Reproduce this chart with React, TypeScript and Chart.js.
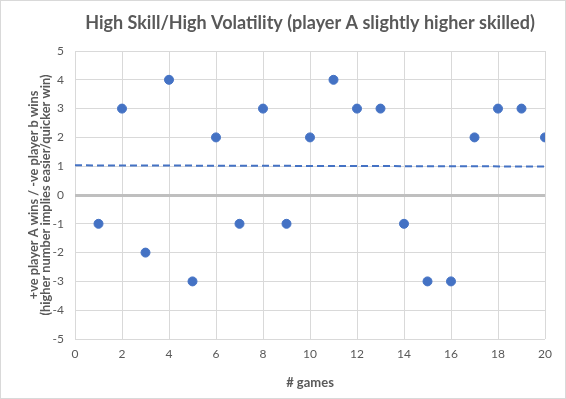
import React, { useEffect, useRef } from "react";
import { Chart, registerables } from "chart.js";

Chart.register(...registerables);

const games = [1, 2, 3, 4, 5, 6, 7, 8, 9, 10, 11, 12, 13, 14, 15, 16, 17, 18, 19, 20];
const results = [-1, 3, -2, 4, -3, 2, -1, 3, -1, 2, 4, 3, 3, -1, -3, -3, 2, 3, 3, 2];
const trendX = [0, 20];
const trendY = [1.03, 0.99];
const titleText = "High Skill/High Volatility (player A slightly higher skilled)";
const xTitle = "# games";
const yTitle = ["+ve player A wins / -ve player b wins", "(higher number implies easier/quicker win)"];

const FONT = "Lato, 'Open Sans', sans-serif";
const GREY = "#595959";
const BLUE = "#4472C4";

const titlePlugin = {
  id: "customTitle",
  afterDraw(chart: any) {
    const { ctx, chartArea } = chart;
    ctx.save();
    ctx.font = `bold 18px ${FONT}`;
    ctx.fillStyle = GREY;
    ctx.textAlign = "center";
    ctx.textBaseline = "middle";
    ctx.fillText(titleText, (chartArea.left + chartArea.right) / 2, 22);
    ctx.restore();
  },
};

export default function App() {
  const ref = useRef<HTMLCanvasElement>(null);
  useEffect(() => {
    document.body.style.margin = "0";
    const chart = new Chart(ref.current!, {
      type: "scatter",
      data: {
        datasets: [
          {
            label: "results",
            data: games.map((g, i) => ({ x: g, y: results[i] })),
            backgroundColor: BLUE,
            borderColor: BLUE,
            pointRadius: 4.5,
            pointBorderWidth: 1,
          },
          {
            type: "line",
            label: "trend",
            data: trendX.map((x, i) => ({ x, y: trendY[i] })),
            borderColor: BLUE,
            borderWidth: 2,
            borderDash: [7, 4],
            pointRadius: 0,
            fill: false,
          } as any,
        ],
      },
      plugins: [titlePlugin],
      options: {
        animation: false,
        responsive: false,
        layout: { padding: { left: 0, right: 20, top: 50, bottom: 0 } },
        plugins: {
          legend: { display: false },
          tooltip: { enabled: false },
          title: { display: false },
        },
        scales: {
          x: {
            type: "linear",
            min: 0,
            max: 20,
            afterFit: (s: any) => {
              s.height = 59;
            },
            ticks: { stepSize: 2, color: GREY, font: { family: FONT, size: 12 }, padding: 8 },
            grid: { color: "#D9D9D9", drawTicks: false },
            border: { display: false },
            title: {
              display: true,
              text: xTitle,
              color: GREY,
              font: { family: FONT, size: 13, weight: "bold" },
              padding: { top: 0, bottom: 7 },
            },
          },
          y: {
            type: "linear",
            min: -5,
            max: 5,
            afterFit: (s: any) => {
              s.width = 74;
            },
            ticks: { stepSize: 1, color: GREY, font: { family: FONT, size: 12 }, padding: 11 },
            grid: {
              drawTicks: false,
              color: (c: any) => (c.tick && c.tick.value === 0 ? "#BFBFBF" : "#D9D9D9"),
              lineWidth: (c: any) => (c.tick && c.tick.value === 0 ? 3 : 1),
            },
            border: { display: false },
            title: {
              display: true,
              text: yTitle,
              color: GREY,
              font: { family: FONT, size: 12.8, weight: "bold", lineHeight: 1.0 },
              padding: { top: 26, bottom: 0 },
            },
          },
        },
      },
    });
    return () => chart.destroy();
  }, []);
  return (
    <div
      style={{
        position: "fixed",
        left: 0,
        top: 0,
        width: 566,
        height: 399,
        boxSizing: "border-box",
        border: "1px solid #D9D9D9",
        background: "#fff",
      }}
    >
      <canvas ref={ref} width={564} height={397} />
    </div>
  );
}
